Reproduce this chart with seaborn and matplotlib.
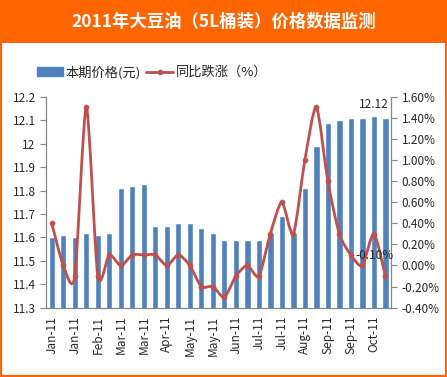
import numpy as np
import pandas as pd
import matplotlib
matplotlib.use("Agg")
import matplotlib.pyplot as plt
from matplotlib.path import Path
from matplotlib.patches import PathPatch, Rectangle, Patch
from matplotlib.lines import Line2D
from matplotlib.ticker import FuncFormatter, MultipleLocator, FixedLocator
import seaborn as sns

# price (yuan) per 5L barrel, one value per period
prices = [11.60, 11.61, 11.60, 11.62, 11.61, 11.62, 11.81, 11.82, 11.83, 11.65,
          11.65, 11.66, 11.66, 11.64, 11.62, 11.59, 11.59, 11.59, 11.59, 11.62,
          11.69, 11.62, 11.81, 11.99, 12.09, 12.10, 12.11, 12.11, 12.12, 12.11]
# year-on-year change (%)
yoy = [0.40, 0.00, -0.10, 1.50, -0.10, 0.10, 0.00, 0.10, 0.10, 0.10,
       0.00, 0.10, 0.00, -0.20, -0.20, -0.30, -0.10, 0.00, -0.10, 0.30,
       0.60, 0.30, 1.00, 1.50, 0.80, 0.30, 0.10, 0.00, 0.30, -0.10]
# every second period is labelled
tick_labels = ["Jan-11", "Jan-11", "Feb-11", "Mar-11", "Mar-11", "Apr-11", "May-11", "May-11",
               "Jun-11", "Jul-11", "Jul-11", "Aug-11", "Sep-11", "Sep-11", "Oct-11"]

title = "2011年大豆油（5L桶装）价格数据监测"
bar_name = "本期价格(元)"
line_name = "同比跌涨（%）"

orange = "#FF6600"
blue = "#4F81BD"
red = "#C0504D"
gray = "#868686"

sns.set_style("white")
plt.rcParams['font.family'] = ['Noto Sans CJK SC', 'DejaVu Sans']

df = pd.DataFrame({"idx": np.arange(len(prices)), "price": prices, "yoy": yoy})

fig = plt.figure(figsize=(4.47, 3.77), dpi=100)
ax = fig.add_axes([0.103, 0.184, 0.772, 0.559])

sns.barplot(data=df, x="idx", y="price", color=blue, saturation=1, width=0.55, ax=ax)
ax.set_ylim(11.3, 12.2)
ax.set_xlim(-0.5, len(prices) - 0.5)
ax.yaxis.set_major_locator(MultipleLocator(0.1))
ax.yaxis.set_major_formatter(FuncFormatter(lambda v, p: f"{round(v, 1):g}"))
ax.set_xlabel("")
ax.set_ylabel("")

# x ticks: labels on every other bar, tick marks between bars
ax.set_xticks(df["idx"][::2])
ax.set_xticklabels(tick_labels, rotation=90, fontsize=8.5)
ax.xaxis.set_minor_locator(FixedLocator(np.arange(-0.5, len(prices), 1)))
ax.tick_params(axis="x", which="major", length=0, pad=6)
ax.tick_params(axis="x", which="minor", length=5, color=gray, direction="out")
ax.tick_params(axis="y", length=4, color=gray, direction="out", labelsize=8.5)

# label on the highest bar
top_i = int(np.argmax(prices))
ax.annotate(f"{prices[top_i]:.2f}", (top_i, prices[top_i]), xytext=(0, 3),
            textcoords="offset points", ha="center", va="bottom", fontsize=8.5)

ax2 = ax.twinx()
ax2.set_ylim(-0.4, 1.6)
ax2.yaxis.set_major_locator(MultipleLocator(0.2))
ax2.yaxis.set_major_formatter(FuncFormatter(lambda v, p: f"{v:.2f}%"))
ax2.tick_params(axis="y", length=4, color=gray, direction="out", labelsize=8.5)

# smoothed line (Bezier through the data points, like Excel's smooth line)
xs = df["idx"].to_numpy(float)
ys = df["yoy"].to_numpy(float)
k = 8.0
verts = [(xs[0], ys[0])]
codes = [Path.MOVETO]
n = len(xs)
for i in range(n - 1):
    p0 = i - 1 if i > 0 else i
    p3 = i + 2 if i + 2 < n else i + 1
    c1 = (xs[i] + (xs[i + 1] - xs[p0]) / k, ys[i] + (ys[i + 1] - ys[p0]) / k)
    c2 = (xs[i + 1] - (xs[p3] - xs[i]) / k, ys[i + 1] - (ys[p3] - ys[i]) / k)
    verts += [c1, c2, (xs[i + 1], ys[i + 1])]
    codes += [Path.CURVE4] * 3
ax2.add_patch(PathPatch(Path(verts, codes), facecolor="none", edgecolor=red, lw=2, zorder=3))
sns.scatterplot(data=df, x="idx", y="yoy", color=red, s=14, edgecolor=red, ax=ax2, zorder=4)
ax2.set_xlabel("")
ax2.set_ylabel("")

ax2.annotate(f"{yoy[-1]:.2f}%", (n - 1, yoy[-1]), xytext=(-8, 15),
             textcoords="offset points", ha="center", va="center", fontsize=8.5)

for a in (ax, ax2):
    a.spines["top"].set_visible(False)
    for s in ("left", "right", "bottom"):
        a.spines[s].set_color(gray)

# legend
handles = [Patch(facecolor=blue, edgecolor=blue),
           Line2D([0], [0], color=red, lw=2, marker="o", markersize=3)]
fig.legend(handles, [bar_name, line_name], loc="center", bbox_to_anchor=(0.34, 0.808),
           ncol=2, frameon=False, fontsize=9.5, handlelength=2.0, handleheight=0.6,
           columnspacing=0.4, handletextpad=0.2)

# title bar and frame
fig.patches.append(Rectangle((0, 0.885), 1, 0.115, transform=fig.transFigure,
                             facecolor=orange, edgecolor="none", zorder=0))
fig.patches.append(Rectangle((0.002, 0.003), 0.996, 0.994, transform=fig.transFigure,
                             facecolor="none", edgecolor=orange, lw=1.5, zorder=5))
fig.text(0.5, 0.942, title, ha="center", va="center", color="white",
         fontsize=12.5, fontweight="bold")

fig.savefig("out.png", dpi=100)
